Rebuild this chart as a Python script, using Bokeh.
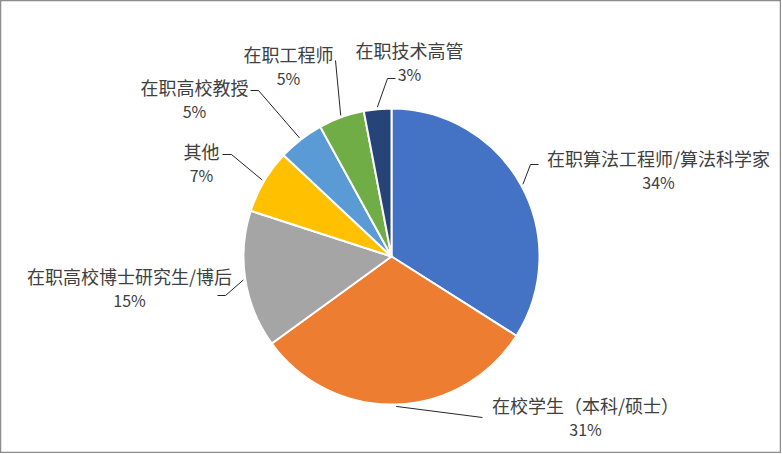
import math
from bokeh.plotting import figure
from bokeh.models import Range1d, ColumnDataSource
from bokeh.core.properties import value
from bokeh.embed import file_html
from bokeh.resources import INLINE

# ---- data ----
categories = ["在职算法工程师/算法科学家", "在校学生（本科/硕士）", "在职高校博士研究生/博后",
              "其他", "在职高校教授", "在职工程师", "在职技术高管"]
shares = [34, 31, 15, 7, 5, 5, 3]
pct_labels = ["34%", "31%", "15%", "7%", "5%", "5%", "3%"]
colors = ["#4472C4", "#ED7D31", "#A5A5A5", "#FFC000", "#5B9BD5", "#70AD47", "#264478"]

# ---- layout (picture px) ----
W, H = 781, 453
CX, CY, R = 391, 256, 148
label_pos = [(658, 157), (585, 404), (129, 275), (201, 150), (194, 86), (288, 53), (409, 49)]
LINE_GAP = 24
leader_path = [
    [(530, 164), (538, 164)],
    [(482, 417)],
    [(225, 295), (217, 295)],
    [(231, 154), (222, 154)],
    [(258, 90), (250, 90)],
    [(335, 60)],
    [(387, 78), (395, 78)],
]

def fx(x):
    return x

def fy(y):
    return H - y

p = figure(width=W, height=H, output_backend="svg", toolbar_location=None,
           x_range=Range1d(0, W), y_range=Range1d(0, H), min_border=0)
p.axis.visible = False
p.grid.visible = False
p.outline_line_color = "#8c8c8c"
p.outline_line_width = 1.5
p.background_fill_color = "white"
p.border_fill_color = "white"

total = float(sum(shares))
starts, ends, mids = [], [], []
cum = 0.0
for s in shares:
    a0 = math.pi / 2 - 2 * math.pi * cum / total
    cum += s
    a1 = math.pi / 2 - 2 * math.pi * cum / total
    starts.append(a0)
    ends.append(a1)
    mids.append((a0 + a1) / 2)

src = ColumnDataSource(dict(start=starts, end=ends, color=colors, cat=categories))
p.wedge(x=fx(CX), y=fy(CY), radius=R, start_angle="start", end_angle="end",
        direction="clock", fill_color="color", line_color="white", line_width=2,
        source=src)

# leader lines
for m, path in zip(mids, leader_path):
    sx = CX + (R + 2) * math.cos(m)
    sy = CY - (R + 2) * math.sin(m)
    xs = [fx(sx)] + [fx(px) for px, py in path]
    ys = [fy(sy)] + [fy(py) for px, py in path]
    p.line(xs, ys, line_color="#262626", line_width=1)

# labels
nx = [fx(x) for x, y in label_pos]
ny = [fy(y) for x, y in label_pos]
py_ = [fy(y + LINE_GAP) for x, y in label_pos]
font = value("Noto Sans CJK SC")
p.text(x=nx, y=ny, text=categories, text_font=font, text_font_size="18px",
       text_color="#404040", text_align="center", text_baseline="middle")
p.text(x=nx, y=py_, text=pct_labels, text_font=font, text_font_size="16px",
       text_color="#404040", text_align="center", text_baseline="middle")

open("out.html", "w").write(file_html(p, INLINE))
